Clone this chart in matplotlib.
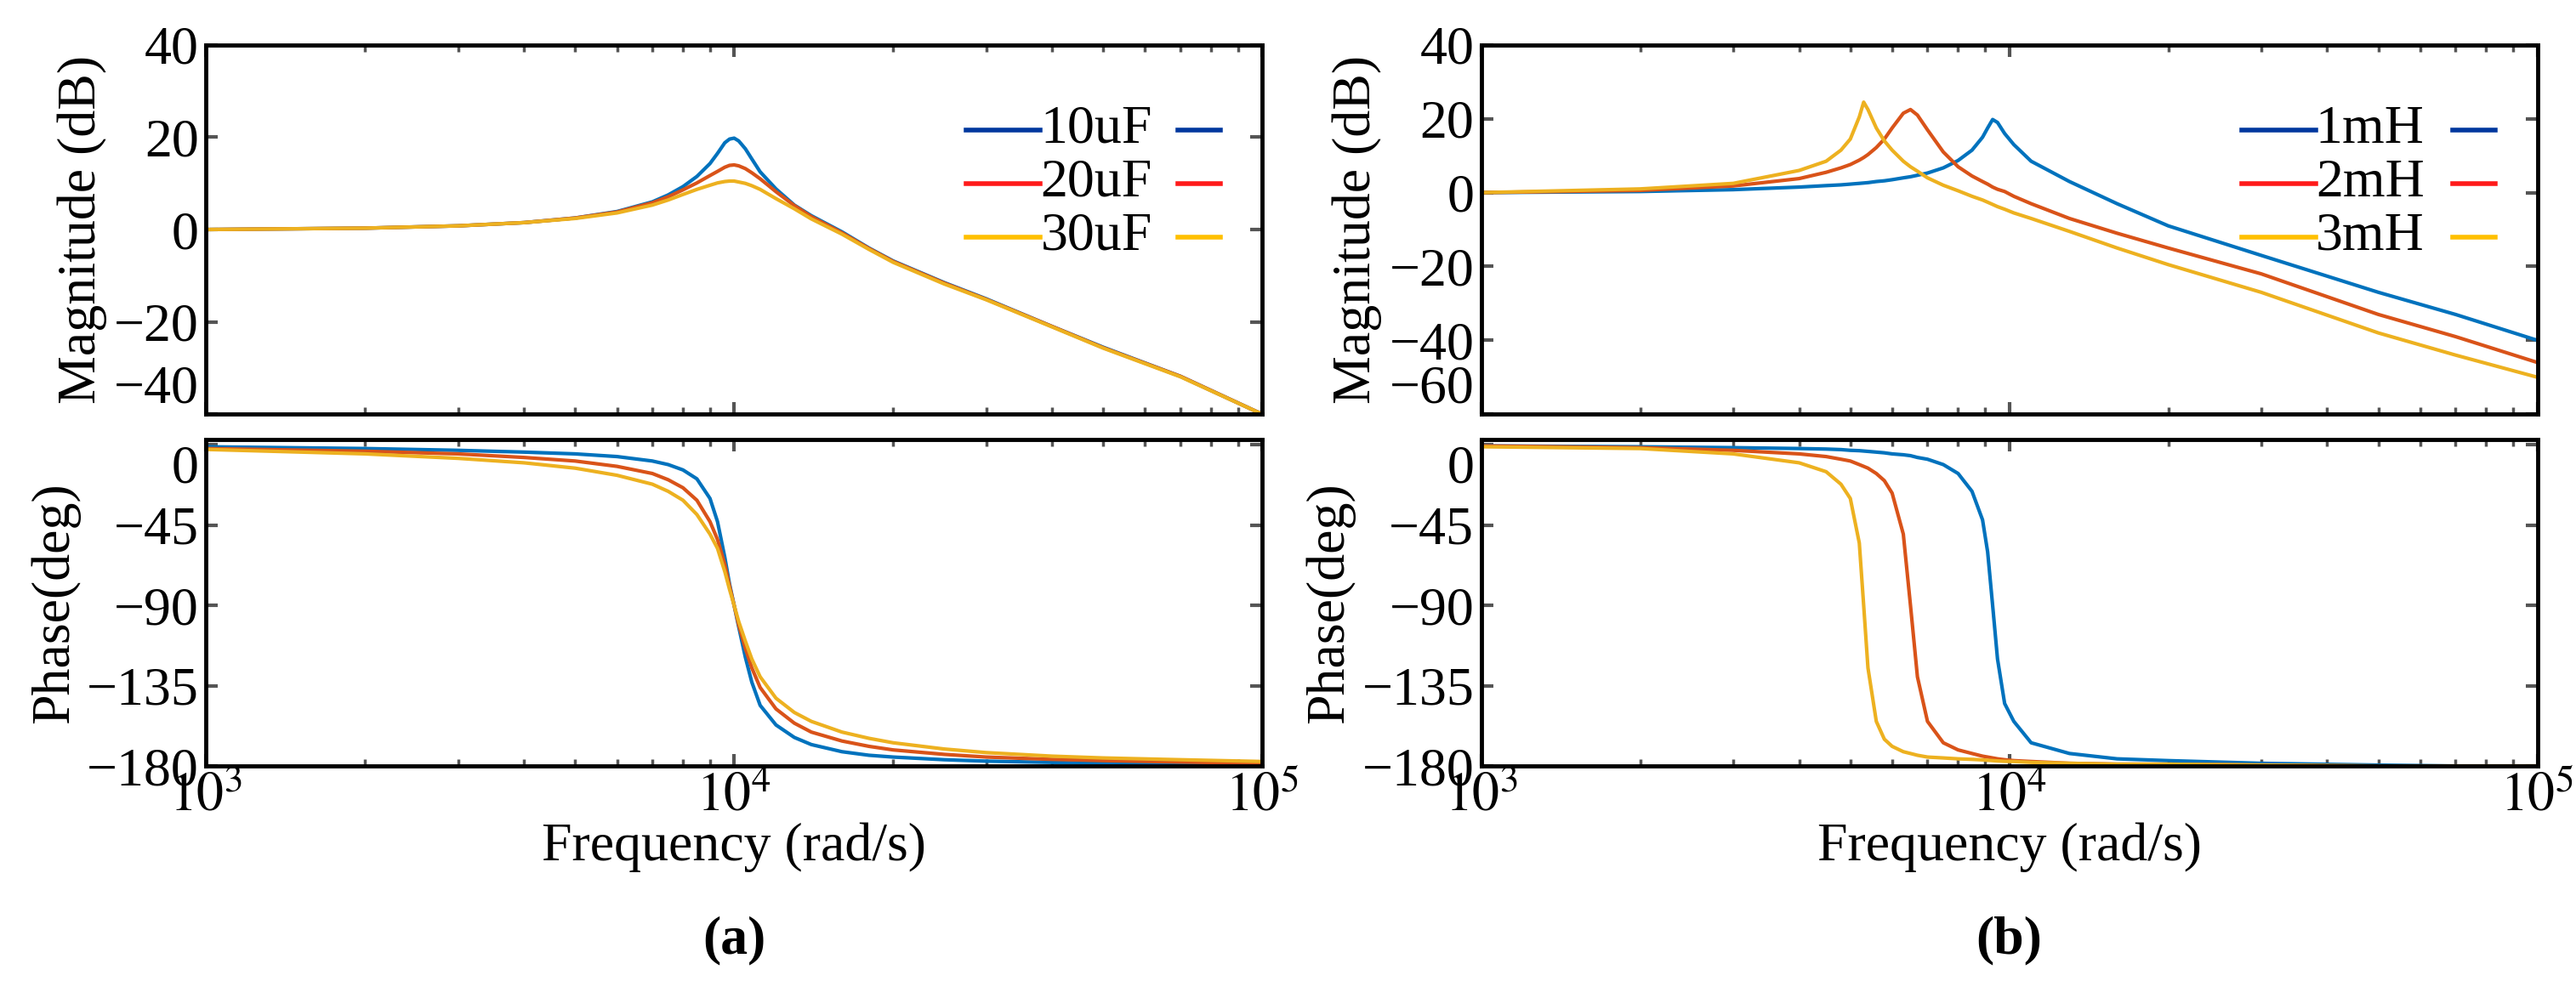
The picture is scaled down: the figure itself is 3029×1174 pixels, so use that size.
import numpy as np
import matplotlib
matplotlib.use("Agg")
import matplotlib.pyplot as plt
from matplotlib.ticker import LogLocator, NullFormatter

plt.rcParams['font.family'] = ['Liberation Serif', 'DejaVu Serif']
plt.rcParams['mathtext.fontset'] = 'stix'

# --- (a) capacitor variation ---
freq_a = [1e3, 2e3, 3e3, 4e3, 5e3, 6e3, 7e3, 7.5e3, 8e3, 8.5e3, 9e3, 9.3e3, 9.6e3, 9.8e3, 1e4,
          1.02e4, 1.05e4, 1.08e4, 1.12e4, 1.2e4, 1.3e4, 1.4e4, 1.6e4, 1.8e4, 2e4, 2.5e4, 3e4,
          4e4, 5e4, 7e4, 1e5]
mag_10uF = [0, 0.3, 0.8, 1.5, 2.5, 3.9, 6, 7.5, 9.3, 11.5, 14.3, 16.5, 18.8, 19.6, 19.8,
            19.2, 17.5, 15.3, 12.5, 8.8, 5.3, 3, -0.5, -4, -6.8, -11.5, -15, -21, -25.5, -31.8, -40]
mag_20uF = [0, 0.3, 0.8, 1.5, 2.5, 3.8, 5.8, 7.1, 8.6, 10.1, 11.7, 12.6, 13.5, 13.9, 14,
            13.8, 13.2, 12.3, 11, 8.2, 5.2, 2.8, -0.7, -4.1, -6.9, -11.6, -15.1, -21, -25.6, -31.8, -40]
mag_30uF = [0, 0.3, 0.8, 1.5, 2.4, 3.6, 5.3, 6.4, 7.6, 8.7, 9.6, 10.1, 10.4, 10.5, 10.5,
            10.3, 10, 9.5, 8.7, 6.7, 4.5, 2.3, -1, -4.3, -7.1, -11.8, -15.2, -21.1, -25.7, -31.9, -40]
ph_10uF = [-1, -2, -3, -4, -5, -6.5, -9, -11, -14, -19, -30, -43, -63, -78, -90,
           -102, -119, -133, -146, -157, -164, -168, -172, -174, -175, -176.5, -177.3, -178, -178.5, -179, -179.5]
ph_20uF = [-2, -3.5, -5, -7, -9, -12, -16, -19.5, -24, -31, -43, -53, -67, -79, -90,
           -101, -114, -125, -136, -148, -156, -161, -166, -169, -171, -173.5, -175, -176.3, -177, -177.8, -178.5]
ph_30uF = [-2.5, -5, -7.5, -10, -13, -17, -22, -26, -31, -39, -50, -58, -71, -81, -90,
           -99, -110, -120, -130, -142, -150, -155, -161, -164.5, -167, -170.5, -172.5, -174.5, -175.5, -176.5, -177.5]

# --- (b) inductor variation ---
freq_b = [1e3, 2e3, 3e3, 4e3, 4.5e3, 4.8e3, 5e3, 5.2e3, 5.3e3, 5.4e3, 5.6e3, 5.8e3, 6e3, 6.3e3,
          6.5e3, 6.7e3, 7e3, 7.5e3, 8e3, 8.5e3, 8.9e3, 9.1e3, 9.3e3, 9.5e3, 9.8e3, 1.02e4, 1.1e4,
          1.3e4, 1.6e4, 2e4, 3e4, 5e4, 7e4, 1e5]
mag_1mH = [0, 0.3, 0.8, 1.5, 1.9, 2.1, 2.3, 2.5, 2.6, 2.7, 3.0, 3.2, 3.5, 4.0,
           4.3, 4.7, 5.3, 6.7, 8.7, 11.5, 15, 17.5, 19.8, 19, 16, 13, 8.5,
           3, -3, -9, -17, -27, -33, -40]
mag_2mH = [0, 0.6, 1.8, 3.8, 5.5, 6.7, 7.6, 8.8, 9.5, 10.3, 12.2, 14.5, 17.5, 21.5,
           22.5, 21, 17, 11, 7, 4.5, 3, 2.3, 1.5, 0.9, 0.3, -1, -3,
           -7, -11, -15, -22, -33, -39, -46]
mag_3mH = [0, 1, 2.5, 6, 8.5, 11.5, 14.5, 20.5, 24.5, 22.5, 17.5, 14, 11.5, 8.5,
           7, 5.8, 4, 2, 0.5, -1, -2, -2.6, -3.2, -3.8, -4.5, -5.5, -7,
           -10.5, -15, -19.5, -27, -38, -44, -50]
ph_1mH = [-0.5, -1, -1.5, -2, -2.3, -2.6, -3, -3.2, -3.4, -3.6, -4, -4.4, -5, -5.5,
          -6, -7, -8, -11, -16, -26, -42, -60, -90, -120, -145, -155, -167,
          -173, -176, -177, -178.5, -179.5, -180, -180]
ph_2mH = [-0.5, -1.5, -3, -5, -6.5, -8, -9, -11, -12, -13, -16, -20, -27, -50,
          -90, -130, -155, -167, -171, -173, -174.5, -175, -175.5, -176, -176.5, -177, -177.5,
          -178.5, -179, -179, -179.5, -180, -180, -180]
ph_3mH = [-1, -2, -5, -10, -15, -22, -30, -55, -90, -125, -155, -165, -169, -172,
          -173, -174, -175, -175.5, -176, -176.3, -176.6, -176.8, -177, -177.2, -177.4, -177.5, -178,
          -178.5, -179, -179, -179.5, -180, -180, -180]

colors = ['#0072BD', '#D95319', '#EDB120']
legend_colors = ['#00379E', '#FF1A1A', '#FFC000']
FS = 46

fig = plt.figure(figsize=(30.29, 11.74), dpi=100)


def style(ax):
    ax.set_xscale('log')
    ax.set_xlim(1e3, 1e5)
    ax.xaxis.set_minor_locator(LogLocator(base=10, subs=np.arange(2, 10)))
    ax.xaxis.set_minor_formatter(NullFormatter())
    ax.tick_params(which='both', direction='in', top=True, right=True,
                   color='#555555', labelsize=FS, pad=6)
    ax.tick_params(which='major', length=10, width=3)
    ax.tick_params(which='minor', length=6, width=2.5)
    for s in ax.spines.values():
        s.set_linewidth(3.5)


def panel(x0, freq, mags, phs, labels, mag_ticks, tag):
    ax1 = fig.add_axes([x0, 0.585, 0.41, 0.370])
    ax2 = fig.add_axes([x0, 0.2325, 0.41, 0.327])
    for m, p, c in zip(mags, phs, colors):
        ax1.plot(freq, m, color=c, lw=3)
        ax2.plot(freq, p, color=c, lw=3)
    style(ax1)
    style(ax2)
    ax1.set_ylim(mag_ticks[0], mag_ticks[-1])
    ax1.set_yticks(mag_ticks)
    ax1.tick_params(labelbottom=False)
    ax2.set_ylim(-180, 3)
    ax2.set_yticks([0, -45, -90, -135, -180])
    ax2.get_yticklabels()[0].set_va('top')
    ax1.get_yticklabels()[0].set_va('bottom')
    ax1.set_ylabel('Magnitude (dB)', fontsize=FS, labelpad=6)
    ax2.set_ylabel('Phase(deg)', fontsize=FS, labelpad=6)
    ax2.set_xticks([1e3, 1e4, 1e5])
    ax2.set_xticklabels([r'$10^3$', r'$10^4$', r'$10^5$'])
    ax2.set_xlabel('Frequency (rad/s)', fontsize=FS, labelpad=0)
    # legend with a short line on each side of the label
    for i, (lab, lc) in enumerate(zip(labels, legend_colors)):
        y = 0.77 - i * 0.145
        ax1.plot([0.72, 0.79], [y, y], color=lc, lw=4, transform=ax1.transAxes)
        ax1.plot([0.92, 0.96], [y, y], color=lc, lw=4, transform=ax1.transAxes)
        ax1.text(0.79, y, lab, fontsize=FS, va='center', ha='left',
                 transform=ax1.transAxes)
    fig.text(x0 + 0.205, 0.045, tag, fontsize=FS, fontweight='bold', ha='center')


panel(0.080, freq_a, [mag_10uF, mag_20uF, mag_30uF], [ph_10uF, ph_20uF, ph_30uF],
      ['10uF', '20uF', '30uF'], [-40, -20, 0, 20, 40], '(a)')
panel(0.575, freq_b, [mag_1mH, mag_2mH, mag_3mH], [ph_1mH, ph_2mH, ph_3mH],
      ['1mH', '2mH', '3mH'], [-60, -40, -20, 0, 20, 40], '(b)')

fig.savefig('out.png', dpi=100)
